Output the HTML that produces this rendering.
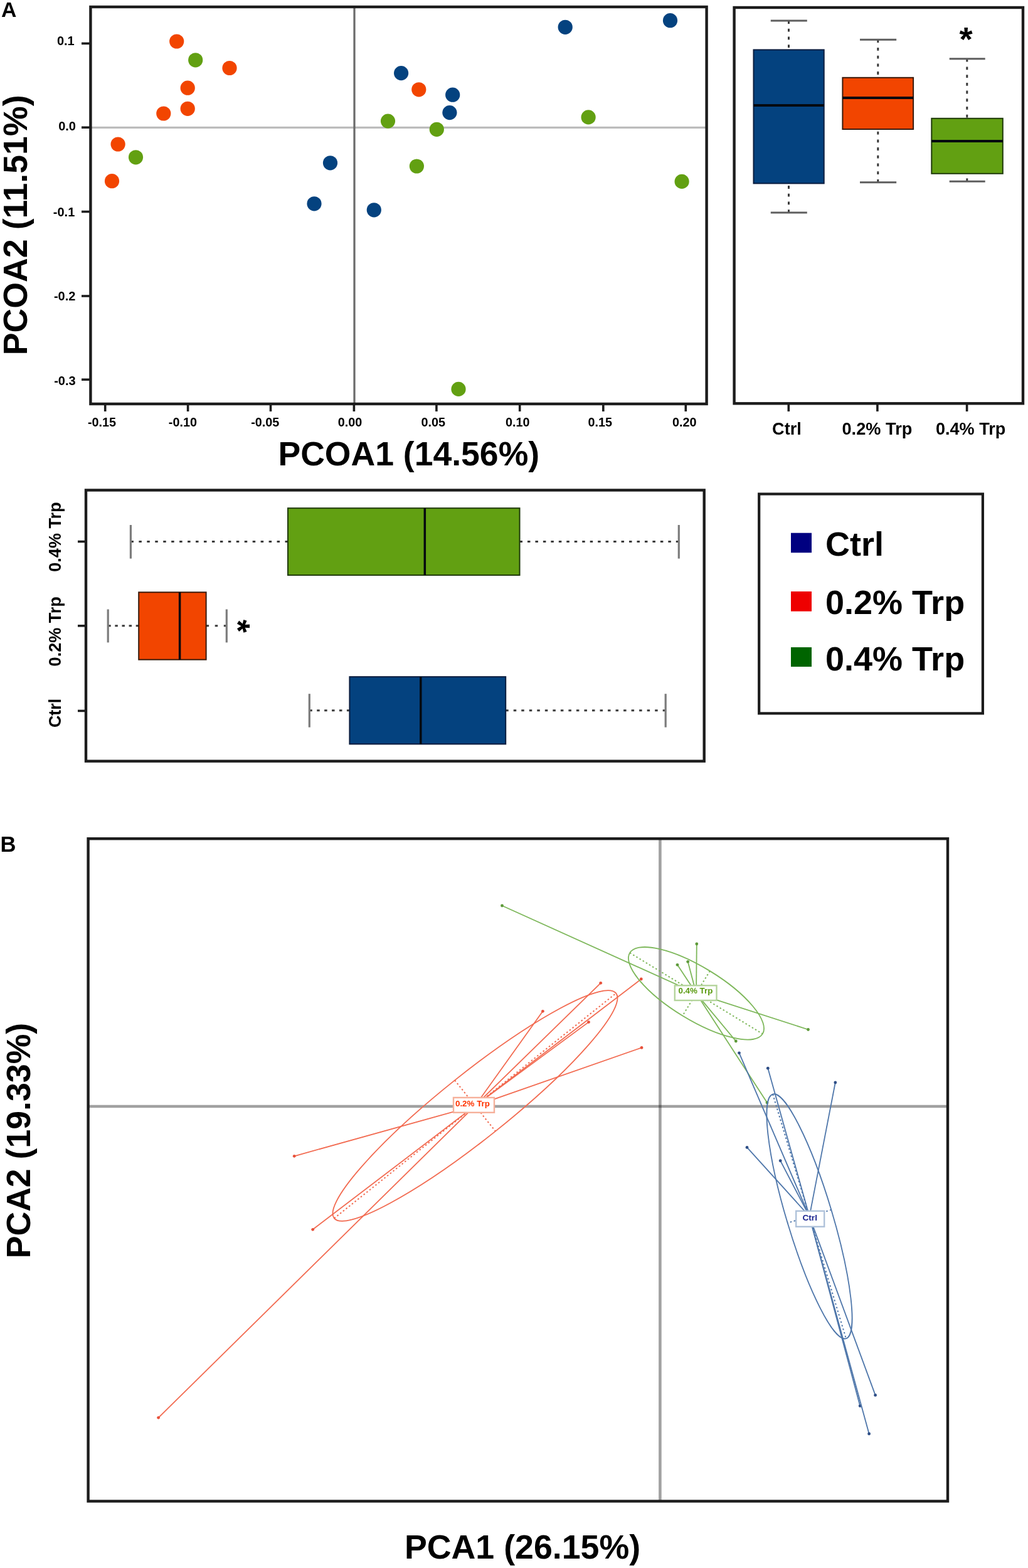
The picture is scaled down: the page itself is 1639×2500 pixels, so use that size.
<!DOCTYPE html>
<html><head><meta charset="utf-8"><title>Figure</title>
<style>html,body{margin:0;padding:0;background:#fff;} svg{display:block;}</style>
</head><body>
<svg width="1639" height="2500" viewBox="0 0 1639 2500" font-family="&apos;Liberation Sans&apos;, Arial, sans-serif" font-weight="bold">
<rect width="1639" height="2500" fill="#fff"/>
<text x="1.89" y="26.90" font-size="33.79" fill="#000" >A</text>
<line x1="144.4" y1="203.4" x2="1126.6" y2="203.4" stroke="#bcbcbc" stroke-width="3.4"/>
<line x1="565" y1="11.0" x2="565" y2="644.0" stroke="#6a6a6a" stroke-width="3.2"/>
<circle cx="281.7" cy="66" r="11.6" fill="#F24500"/>
<circle cx="366" cy="108.5" r="11.6" fill="#F24500"/>
<circle cx="299.2" cy="140.2" r="11.6" fill="#F24500"/>
<circle cx="299.2" cy="173.3" r="11.6" fill="#F24500"/>
<circle cx="260.8" cy="181" r="11.6" fill="#F24500"/>
<circle cx="188.1" cy="230" r="11.6" fill="#F24500"/>
<circle cx="178.5" cy="288.7" r="11.6" fill="#F24500"/>
<circle cx="667.8" cy="142.8" r="11.6" fill="#F24500"/>
<circle cx="311.7" cy="95.8" r="11.6" fill="#62A012"/>
<circle cx="216.5" cy="250.8" r="11.6" fill="#62A012"/>
<circle cx="618.5" cy="193.1" r="11.6" fill="#62A012"/>
<circle cx="696.3" cy="206.3" r="11.6" fill="#62A012"/>
<circle cx="664.4" cy="265" r="11.6" fill="#62A012"/>
<circle cx="938.1" cy="186.9" r="11.6" fill="#62A012"/>
<circle cx="1087.1" cy="289.4" r="11.6" fill="#62A012"/>
<circle cx="731" cy="620.4" r="11.6" fill="#62A012"/>
<circle cx="639.6" cy="116.6" r="11.6" fill="#04427F"/>
<circle cx="721.7" cy="151.2" r="11.6" fill="#04427F"/>
<circle cx="716.9" cy="179.6" r="11.6" fill="#04427F"/>
<circle cx="526.5" cy="259.8" r="11.6" fill="#04427F"/>
<circle cx="501" cy="324.8" r="11.6" fill="#04427F"/>
<circle cx="596.3" cy="334.8" r="11.6" fill="#04427F"/>
<circle cx="901.2" cy="43.3" r="11.6" fill="#04427F"/>
<circle cx="1068.5" cy="32.7" r="11.6" fill="#04427F"/>
<rect x="144.4" y="11.0" width="982.1999999999999" height="633.0" fill="none" stroke="#1c1c1c" stroke-width="4.4"/>
<line x1="130" y1="69.3" x2="144.4" y2="69.3" stroke="#1c1c1c" stroke-width="3.6"/>
<text x="90.90" y="72.00" font-size="20.00" fill="#000">0.1</text>
<line x1="130" y1="203.2" x2="144.4" y2="203.2" stroke="#1c1c1c" stroke-width="3.6"/>
<text x="93.20" y="208.10" font-size="20.00" fill="#000">0.0</text>
<line x1="130" y1="337.5" x2="144.4" y2="337.5" stroke="#1c1c1c" stroke-width="3.6"/>
<text x="84.80" y="344.60" font-size="20.00" fill="#000">-0.1</text>
<line x1="130" y1="472.0" x2="144.4" y2="472.0" stroke="#1c1c1c" stroke-width="3.6"/>
<text x="85.90" y="479.20" font-size="20.00" fill="#000">-0.2</text>
<line x1="130" y1="605.2" x2="144.4" y2="605.2" stroke="#1c1c1c" stroke-width="3.6"/>
<text x="86.20" y="613.50" font-size="20.00" fill="#000">-0.3</text>
<line x1="167.7" y1="644.0" x2="167.7" y2="656" stroke="#1c1c1c" stroke-width="3.6"/>
<text x="140.01" y="680.20" font-size="19.80" fill="#000" >-0.15</text>
<line x1="299.6" y1="644.0" x2="299.6" y2="656" stroke="#1c1c1c" stroke-width="3.6"/>
<text x="268.81" y="680.20" font-size="19.80" fill="#000" >-0.10</text>
<line x1="431.5" y1="644.0" x2="431.5" y2="656" stroke="#1c1c1c" stroke-width="3.6"/>
<text x="400.21" y="680.20" font-size="19.80" fill="#000" >-0.05</text>
<line x1="564.4" y1="644.0" x2="564.4" y2="656" stroke="#1c1c1c" stroke-width="3.6"/>
<text x="538.71" y="680.20" font-size="19.80" fill="#000" >0.00</text>
<line x1="695.9" y1="644.0" x2="695.9" y2="656" stroke="#1c1c1c" stroke-width="3.6"/>
<text x="671.51" y="680.20" font-size="19.80" fill="#000" >0.05</text>
<line x1="828.7" y1="644.0" x2="828.7" y2="656" stroke="#1c1c1c" stroke-width="3.6"/>
<text x="806.11" y="680.20" font-size="19.80" fill="#000" >0.10</text>
<line x1="961.8" y1="644.0" x2="961.8" y2="656" stroke="#1c1c1c" stroke-width="3.6"/>
<text x="937.41" y="680.20" font-size="19.80" fill="#000" >0.15</text>
<line x1="1093.3" y1="644.0" x2="1093.3" y2="656" stroke="#1c1c1c" stroke-width="3.6"/>
<text x="1072.01" y="680.20" font-size="19.80" fill="#000" >0.20</text>
<text x="443.45" y="742.30" font-size="53.55" fill="#000" >PCOA1 (14.56%)</text>
<text transform="translate(42.60,566.36) rotate(-90)" x="0" y="0" font-size="53.72" fill="#000">PCOA2 (11.51%)</text>
<line x1="1257.5" y1="33.1" x2="1257.5" y2="79.4" stroke="#3a3a3a" stroke-width="3" stroke-dasharray="4.8 7.900"/>
<line x1="1257.5" y1="339.0" x2="1257.5" y2="292.4" stroke="#3a3a3a" stroke-width="3" stroke-dasharray="4.8 7.900"/>
<line x1="1228.8" y1="33.1" x2="1286.8" y2="33.1" stroke="#5e5e5e" stroke-width="3"/>
<line x1="1228.8" y1="339.0" x2="1286.8" y2="339.0" stroke="#5e5e5e" stroke-width="3"/>
<rect x="1201.5" y="79.4" width="112.20000000000005" height="212.99999999999997" fill="#04427F" stroke="#0a1d3f" stroke-width="2"/>
<line x1="1201.5" y1="168.0" x2="1313.7" y2="168.0" stroke="#05090f" stroke-width="4"/>
<line x1="1399.8" y1="63.3" x2="1399.8" y2="123.8" stroke="#3a3a3a" stroke-width="3" stroke-dasharray="4.8 7.900"/>
<line x1="1399.8" y1="290.7" x2="1399.8" y2="206.0" stroke="#3a3a3a" stroke-width="3" stroke-dasharray="4.8 7.900"/>
<line x1="1371.0" y1="63.3" x2="1429.2" y2="63.3" stroke="#5e5e5e" stroke-width="3"/>
<line x1="1371.0" y1="290.7" x2="1429.2" y2="290.7" stroke="#5e5e5e" stroke-width="3"/>
<rect x="1343.4" y="123.8" width="112.69999999999982" height="82.2" fill="#F24500" stroke="#3a1a0a" stroke-width="2"/>
<line x1="1343.4" y1="156.0" x2="1456.1" y2="156.0" stroke="#05090f" stroke-width="4"/>
<line x1="1541.8" y1="93.8" x2="1541.8" y2="188.8" stroke="#3a3a3a" stroke-width="3" stroke-dasharray="4.8 7.900"/>
<line x1="1541.8" y1="289.2" x2="1541.8" y2="276.8" stroke="#3a3a3a" stroke-width="3" stroke-dasharray="4.8 7.900"/>
<line x1="1513.7" y1="93.8" x2="1570.7" y2="93.8" stroke="#5e5e5e" stroke-width="3"/>
<line x1="1513.7" y1="289.2" x2="1570.7" y2="289.2" stroke="#5e5e5e" stroke-width="3"/>
<rect x="1485.3" y="188.8" width="113.5" height="88.0" fill="#62A012" stroke="#1f3a0a" stroke-width="2"/>
<line x1="1485.3" y1="225.1" x2="1598.8" y2="225.1" stroke="#05090f" stroke-width="4"/>
<rect x="1170.6" y="12.0" width="460.4000000000001" height="631.3" fill="none" stroke="#1c1c1c" stroke-width="4.4"/>
<line x1="1257.3" y1="643.3" x2="1257.3" y2="656" stroke="#1c1c1c" stroke-width="3.6"/>
<line x1="1398.9" y1="643.3" x2="1398.9" y2="656" stroke="#1c1c1c" stroke-width="3.6"/>
<line x1="1541.6" y1="643.3" x2="1541.6" y2="656" stroke="#1c1c1c" stroke-width="3.6"/>
<text x="1231.12" y="692.90" font-size="27.08" fill="#000" >Ctrl</text>
<text x="1342.51" y="692.90" font-size="27.20" fill="#000" >0.2% Trp</text>
<text x="1492.02" y="692.90" font-size="27.05" fill="#000" >0.4% Trp</text>
<text x="1529.60" y="80.60" font-size="54.36" fill="#000" >*</text>
<line x1="208.4" y1="863.5" x2="459.0" y2="863.5" stroke="#3a3a3a" stroke-width="3" stroke-dasharray="4.5 8.453"/>
<line x1="828.5" y1="863.5" x2="1082.3" y2="863.5" stroke="#3a3a3a" stroke-width="3" stroke-dasharray="4.5 7.965"/>
<line x1="208.4" y1="837.0" x2="208.4" y2="890.6" stroke="#7c7c7c" stroke-width="3.2"/>
<line x1="1082.3" y1="837.0" x2="1082.3" y2="890.6" stroke="#7c7c7c" stroke-width="3.2"/>
<rect x="459.0" y="810.2" width="369.5" height="106.79999999999995" fill="#62A012" stroke="#1f3a0a" stroke-width="2"/>
<line x1="677.3" y1="810.2" x2="677.3" y2="917.0" stroke="#05090f" stroke-width="3.5"/>
<line x1="172.2" y1="997.8" x2="221.2" y2="997.8" stroke="#3a3a3a" stroke-width="3" stroke-dasharray="4.5 6.625"/>
<line x1="328.6" y1="997.8" x2="361.3" y2="997.8" stroke="#3a3a3a" stroke-width="3" stroke-dasharray="4.5 9.600"/>
<line x1="172.2" y1="971.5" x2="172.2" y2="1024.4" stroke="#7c7c7c" stroke-width="3.2"/>
<line x1="361.3" y1="971.5" x2="361.3" y2="1024.4" stroke="#7c7c7c" stroke-width="3.2"/>
<rect x="221.2" y="944.3" width="107.40000000000003" height="107.40000000000009" fill="#F24500" stroke="#3a1a0a" stroke-width="2"/>
<line x1="286.6" y1="944.3" x2="286.6" y2="1051.7" stroke="#05090f" stroke-width="3.5"/>
<line x1="493.3" y1="1132.8" x2="557.4" y2="1132.8" stroke="#3a3a3a" stroke-width="3" stroke-dasharray="4.5 7.420"/>
<line x1="806.2" y1="1132.8" x2="1061.2" y2="1132.8" stroke="#3a3a3a" stroke-width="3" stroke-dasharray="4.5 8.025"/>
<line x1="493.3" y1="1106.2" x2="493.3" y2="1159.6" stroke="#7c7c7c" stroke-width="3.2"/>
<line x1="1061.2" y1="1106.2" x2="1061.2" y2="1159.6" stroke="#7c7c7c" stroke-width="3.2"/>
<rect x="557.4" y="1079.1" width="248.80000000000007" height="107.20000000000005" fill="#04427F" stroke="#0a1d3f" stroke-width="2"/>
<line x1="670.8" y1="1079.1" x2="670.8" y2="1186.3" stroke="#05090f" stroke-width="3.5"/>
<rect x="137.0" y="781.5" width="985.7" height="432.0999999999999" fill="none" stroke="#1c1c1c" stroke-width="4.4"/>
<line x1="124" y1="863.5" x2="137.0" y2="863.5" stroke="#1c1c1c" stroke-width="3.6"/>
<line x1="124" y1="997.8" x2="137.0" y2="997.8" stroke="#1c1c1c" stroke-width="3.6"/>
<line x1="124" y1="1133.4" x2="137.0" y2="1133.4" stroke="#1c1c1c" stroke-width="3.6"/>
<text transform="translate(96.50,911.68) rotate(-90)" x="0" y="0" font-size="27.02" fill="#000">0.4% Trp</text>
<text transform="translate(96.50,1062.38) rotate(-90)" x="0" y="0" font-size="27.05" fill="#000">0.2% Trp</text>
<text transform="translate(96.50,1160.07) rotate(-90)" x="0" y="0" font-size="26.83" fill="#000">Ctrl</text>
<text transform="rotate(90 387.9 998.2)" x="377.37" y="1025.47" font-size="54.0" fill="#000">*</text>
<rect x="1210.2" y="787.6" width="356.70000000000005" height="349.80000000000007" fill="none" stroke="#1c1c1c" stroke-width="4.2"/>
<rect x="1261" y="849.7" width="33" height="31.5" fill="#000080"/>
<rect x="1261" y="943.0" width="33" height="31.7" fill="#EE0000"/>
<rect x="1261" y="1032.0" width="33" height="31.0" fill="#006400"/>
<text x="1316.04" y="885.90" font-size="54.00" fill="#000" >Ctrl</text>
<text x="1316.04" y="979.10" font-size="54.00" fill="#000" >0.2% Trp</text>
<text x="1316.04" y="1068.80" font-size="54.00" fill="#000" >0.4% Trp</text>
<text x="0.48" y="1357.70" font-size="34.59" fill="#000" >B</text>
<line x1="1052.4" y1="1337.2" x2="1052.4" y2="2393.5" stroke="#000" stroke-opacity="0.37" stroke-width="4.6"/>
<line x1="140.6" y1="1764.0" x2="1511.0" y2="1764.0" stroke="#000" stroke-opacity="0.37" stroke-width="4.6"/>
<line x1="757.5" y1="1763" x2="957.7" y2="1567.3" stroke="#F26A50" stroke-width="1.8"/>
<circle cx="957.7" cy="1567.3" r="2.4" fill="#E8503A"/>
<line x1="757.5" y1="1763" x2="865.4" y2="1612.3" stroke="#F26A50" stroke-width="1.8"/>
<circle cx="865.4" cy="1612.3" r="2.4" fill="#E8503A"/>
<line x1="757.5" y1="1763" x2="1023" y2="1670.4" stroke="#F26A50" stroke-width="1.8"/>
<circle cx="1023" cy="1670.4" r="2.4" fill="#E8503A"/>
<line x1="757.5" y1="1763" x2="938.5" y2="1629.6" stroke="#F26A50" stroke-width="1.8"/>
<circle cx="938.5" cy="1629.6" r="2.4" fill="#E8503A"/>
<line x1="757.5" y1="1763" x2="1022.3" y2="1561" stroke="#F26A50" stroke-width="1.8"/>
<circle cx="1022.3" cy="1561" r="2.4" fill="#E8503A"/>
<line x1="757.5" y1="1763" x2="469.2" y2="1843.3" stroke="#F26A50" stroke-width="1.8"/>
<circle cx="469.2" cy="1843.3" r="2.4" fill="#E8503A"/>
<line x1="757.5" y1="1763" x2="498.7" y2="1960.3" stroke="#F26A50" stroke-width="1.8"/>
<circle cx="498.7" cy="1960.3" r="2.4" fill="#E8503A"/>
<line x1="757.5" y1="1763" x2="252.6" y2="2260.3" stroke="#F26A50" stroke-width="1.8"/>
<circle cx="252.6" cy="2260.3" r="2.4" fill="#E8503A"/>
<ellipse cx="757.5" cy="1763" rx="287.5" ry="52" transform="rotate(-38.6 757.5 1763)" fill="none" stroke="#F26A50" stroke-width="1.8"/>
<line x1="532.8" y1="1942.4" x2="982.2" y2="1583.6" stroke="#F26A50" stroke-width="2" stroke-dasharray="2.5 3.5"/>
<line x1="725.1" y1="1722.4" x2="789.9" y2="1803.6" stroke="#F26A50" stroke-width="2" stroke-dasharray="2.5 3.5"/>
<rect x="723" y="1750" width="65" height="23.799999999999955" fill="#fff" stroke="#F6B09A" stroke-width="2.4"/>
<text x="725.97" y="1763.50" font-size="13.37" fill="#FF3300" >0.2% Trp</text>
<line x1="1110" y1="1583.8" x2="800.5" y2="1444" stroke="#7DB75A" stroke-width="1.8"/>
<circle cx="800.5" cy="1444" r="2.4" fill="#5E9A3A"/>
<line x1="1110" y1="1583.8" x2="1288.5" y2="1641.5" stroke="#7DB75A" stroke-width="1.8"/>
<circle cx="1288.5" cy="1641.5" r="2.4" fill="#5E9A3A"/>
<line x1="1110" y1="1583.8" x2="1110.8" y2="1505" stroke="#7DB75A" stroke-width="1.8"/>
<circle cx="1110.8" cy="1505" r="2.4" fill="#5E9A3A"/>
<line x1="1110" y1="1583.8" x2="1080" y2="1538.3" stroke="#7DB75A" stroke-width="1.8"/>
<circle cx="1080" cy="1538.3" r="2.4" fill="#5E9A3A"/>
<line x1="1110" y1="1583.8" x2="1096.7" y2="1533.3" stroke="#7DB75A" stroke-width="1.8"/>
<circle cx="1096.7" cy="1533.3" r="2.4" fill="#5E9A3A"/>
<line x1="1110" y1="1583.8" x2="1173.3" y2="1660" stroke="#7DB75A" stroke-width="1.8"/>
<circle cx="1173.3" cy="1660" r="2.4" fill="#5E9A3A"/>
<line x1="1110" y1="1583.8" x2="1223" y2="1758" stroke="#7DB75A" stroke-width="1.8"/>
<circle cx="1223" cy="1758" r="2.4" fill="#5E9A3A"/>
<ellipse cx="1110" cy="1583.8" rx="124" ry="41.8" transform="rotate(31.4 1110 1583.8)" fill="none" stroke="#7DB75A" stroke-width="1.8"/>
<line x1="1004.2" y1="1519.2" x2="1215.8" y2="1648.4" stroke="#7DB75A" stroke-width="2" stroke-dasharray="2.5 3.5"/>
<line x1="1131.8" y1="1548.1" x2="1088.2" y2="1619.5" stroke="#7DB75A" stroke-width="2" stroke-dasharray="2.5 3.5"/>
<rect x="1075.8" y="1571.3" width="66.70000000000005" height="23.700000000000045" fill="#fff" stroke="#B4D49C" stroke-width="2.4"/>
<text x="1081.47" y="1584.20" font-size="13.35" fill="#5A9A10" >0.4% Trp</text>
<line x1="1290.5" y1="1939.4" x2="1178.5" y2="1678.8" stroke="#4E76AA" stroke-width="1.8"/>
<circle cx="1178.5" cy="1678.8" r="2.4" fill="#2E4E86"/>
<line x1="1290.5" y1="1939.4" x2="1224.3" y2="1703.2" stroke="#4E76AA" stroke-width="1.8"/>
<circle cx="1224.3" cy="1703.2" r="2.4" fill="#2E4E86"/>
<line x1="1290.5" y1="1939.4" x2="1331.8" y2="1726" stroke="#4E76AA" stroke-width="1.8"/>
<circle cx="1331.8" cy="1726" r="2.4" fill="#2E4E86"/>
<line x1="1290.5" y1="1939.4" x2="1191" y2="1829.4" stroke="#4E76AA" stroke-width="1.8"/>
<circle cx="1191" cy="1829.4" r="2.4" fill="#2E4E86"/>
<line x1="1290.5" y1="1939.4" x2="1244.2" y2="1850.7" stroke="#4E76AA" stroke-width="1.8"/>
<circle cx="1244.2" cy="1850.7" r="2.4" fill="#2E4E86"/>
<line x1="1290.5" y1="1939.4" x2="1395.6" y2="2224.4" stroke="#4E76AA" stroke-width="1.8"/>
<circle cx="1395.6" cy="2224.4" r="2.4" fill="#2E4E86"/>
<line x1="1290.5" y1="1939.4" x2="1371.2" y2="2241.6" stroke="#4E76AA" stroke-width="1.8"/>
<circle cx="1371.2" cy="2241.6" r="2.4" fill="#2E4E86"/>
<line x1="1290.5" y1="1939.4" x2="1385.6" y2="2286" stroke="#4E76AA" stroke-width="1.8"/>
<circle cx="1385.6" cy="2286" r="2.4" fill="#2E4E86"/>
<ellipse cx="1290.5" cy="1939.4" rx="203.4" ry="36.4" transform="rotate(73.3 1290.5 1939.4)" fill="none" stroke="#4E76AA" stroke-width="1.8"/>
<line x1="1232.1" y1="1744.6" x2="1348.9" y2="2134.2" stroke="#4E76AA" stroke-width="2" stroke-dasharray="2.5 3.5"/>
<line x1="1325.4" y1="1928.9" x2="1255.6" y2="1949.9" stroke="#4E76AA" stroke-width="2" stroke-dasharray="2.5 3.5"/>
<rect x="1269.2" y="1930.8" width="45.0" height="25.0" fill="#fff" stroke="#AFC2DA" stroke-width="2.4"/>
<text x="1279.45" y="1946.20" font-size="13.66" fill="#1C2590" >Ctrl</text>
<rect x="140.6" y="1337.2" width="1370.4" height="1056.3" fill="none" stroke="#1c1c1c" stroke-width="4.4"/>
<text x="644.94" y="2484.60" font-size="53.72" fill="#000" >PCA1 (26.15%)</text>
<text transform="translate(48.30,2006.35) rotate(-90)" x="0" y="0" font-size="53.63" fill="#000">PCA2 (19.33%)</text>
</svg>
</body></html>
